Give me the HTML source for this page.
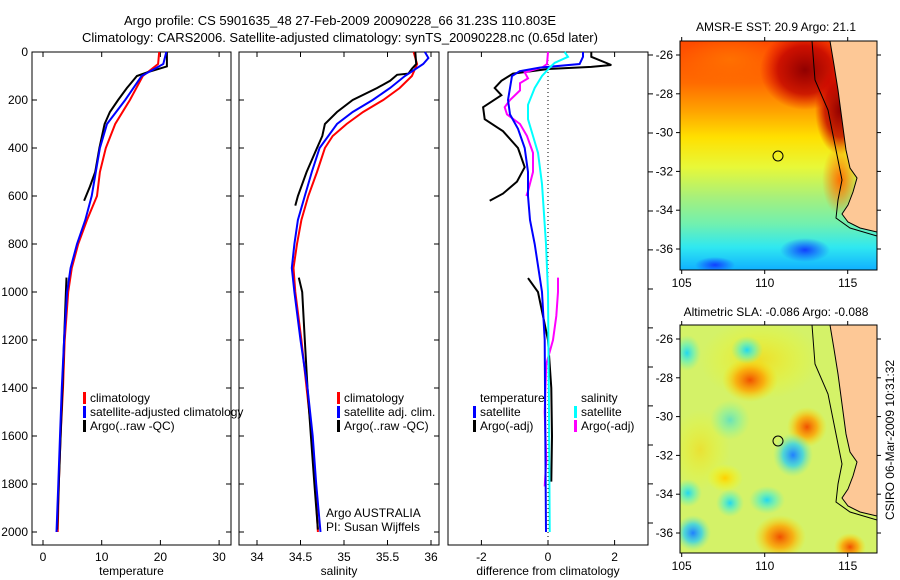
<!DOCTYPE html>
<html><head><meta charset="utf-8">
<style>
body{margin:0;background:#fff;}
svg{display:block;font-family:"Liberation Sans",sans-serif;font-size:12px;}
</style></head>
<body>
<svg id="c" width="900" height="580" viewBox="0 0 900 580">
<defs>
<linearGradient id="sstg" x1="0" y1="0" x2="0" y2="1">
<stop offset="0" stop-color="#ff4a00"/><stop offset="0.18" stop-color="#ff6a00"/>
<stop offset="0.3" stop-color="#ffa000"/><stop offset="0.42" stop-color="#ffe000"/>
<stop offset="0.55" stop-color="#e8f838"/><stop offset="0.68" stop-color="#a8f07a"/>
<stop offset="0.8" stop-color="#70f0b0"/><stop offset="0.9" stop-color="#30e8f0"/>
<stop offset="1" stop-color="#10b0ff"/></linearGradient>
<radialGradient id="dr"><stop offset="0" stop-color="#900000"/><stop offset="0.6" stop-color="#c00000" stop-opacity="0.8"/><stop offset="1" stop-color="#e00000" stop-opacity="0"/></radialGradient>
<radialGradient id="og"><stop offset="0" stop-color="#ff7000"/><stop offset="1" stop-color="#ff7000" stop-opacity="0"/></radialGradient>
<radialGradient id="bl"><stop offset="0" stop-color="#1040ff"/><stop offset="1" stop-color="#1040ff" stop-opacity="0"/></radialGradient>
<radialGradient id="rb"><stop offset="0" stop-color="#f05000"/><stop offset="0.5" stop-color="#ffa000" stop-opacity="0.8"/><stop offset="1" stop-color="#ffe000" stop-opacity="0"/></radialGradient>
<radialGradient id="cb"><stop offset="0" stop-color="#20d8f0"/><stop offset="0.5" stop-color="#60f0c0" stop-opacity="0.7"/><stop offset="1" stop-color="#80f0a0" stop-opacity="0"/></radialGradient>
<radialGradient id="bb"><stop offset="0" stop-color="#2080ff"/><stop offset="0.5" stop-color="#30d0f0" stop-opacity="0.8"/><stop offset="1" stop-color="#80f0a0" stop-opacity="0"/></radialGradient>
<radialGradient id="yb"><stop offset="0" stop-color="#ffd000"/><stop offset="1" stop-color="#ffff00" stop-opacity="0"/></radialGradient>
<clipPath id="m1c"><rect x="680" y="41" width="197" height="229"/></clipPath>
<clipPath id="m2c"><rect x="680" y="325" width="197" height="228"/></clipPath>
</defs>
<text x="340" y="25" text-anchor="middle" font-size="13">Argo profile: CS 5901635_48 27-Feb-2009 20090228_66 31.23S 110.803E</text>
<text x="340" y="42" text-anchor="middle" font-size="13">Climatology: CARS2006. Satellite-adjusted climatology: synTS_20090228.nc (0.65d later)</text>
<g id="plots"></g>

<!-- SST map -->
<g clip-path="url(#m1c)">
<rect x="680" y="41" width="197" height="229" fill="url(#sstg)"/>
<ellipse cx="730" cy="60" rx="50" ry="25" fill="url(#og)"/>
<ellipse cx="805" cy="70" rx="45" ry="40" fill="url(#dr)"/>
<ellipse cx="840" cy="110" rx="25" ry="45" fill="url(#dr)"/>
<ellipse cx="840" cy="180" rx="18" ry="35" fill="url(#og)"/>
<ellipse cx="805" cy="250" rx="25" ry="12" fill="url(#bl)"/>
<ellipse cx="715" cy="265" rx="20" ry="8" fill="url(#bl)"/>
<polygon points="830,41 877,41 877,232 860,228 848,222 842,214 848,205 853,192 857,178 850,168 846,150 842,120 838,90 834,65" fill="#fdc896"/>
<polyline points="812,41 815,80 828,110 836,150 842,180 838,200 836,218 850,228 877,236" fill="none" stroke="#000" stroke-width="1"/>
<polyline points="830,41 834,65 838,90 842,120 846,150 850,168 857,178 853,192 848,205 842,214 848,222 860,228 877,232" fill="none" stroke="#000" stroke-width="1"/>
<circle cx="778" cy="156" r="5" fill="none" stroke="#000"/>
</g>
<rect x="680" y="41" width="197" height="229" fill="none" stroke="#000"/>
<text x="776" y="31" text-anchor="middle">AMSR-E SST: 20.9 Argo: 21.1</text>

<!-- SLA map -->
<g clip-path="url(#m2c)">
<rect x="680" y="325" width="197" height="228" fill="#d4f268"/>
<ellipse cx="760" cy="360" rx="60" ry="40" fill="url(#yb)" opacity="0.6"/>
<ellipse cx="700" cy="450" rx="30" ry="40" fill="url(#yb)" opacity="0.5"/>
<ellipse cx="750" cy="380" rx="28" ry="22" fill="url(#rb)"/>
<ellipse cx="807" cy="427" rx="20" ry="20" fill="url(#rb)"/>
<ellipse cx="780" cy="537" rx="26" ry="22" fill="url(#rb)"/>
<ellipse cx="850" cy="547" rx="16" ry="14" fill="url(#rb)"/>
<ellipse cx="725" cy="478" rx="18" ry="14" fill="url(#yb)"/>
<ellipse cx="793" cy="455" rx="20" ry="22" fill="url(#bb)"/>
<ellipse cx="693" cy="533" rx="18" ry="18" fill="url(#bb)"/>
<ellipse cx="767" cy="500" rx="18" ry="14" fill="url(#cb)"/>
<ellipse cx="730" cy="503" rx="14" ry="14" fill="url(#cb)"/>
<ellipse cx="688" cy="493" rx="14" ry="14" fill="url(#cb)"/>
<ellipse cx="747" cy="350" rx="16" ry="14" fill="url(#cb)"/>
<ellipse cx="687" cy="353" rx="14" ry="18" fill="url(#cb)"/>
<ellipse cx="730" cy="420" rx="20" ry="20" fill="url(#cb)" opacity="0.6"/>
<polygon points="830,325 877,325 877,516 860,512 848,506 842,498 848,489 853,476 857,462 850,452 846,434 842,404 838,374 834,349" fill="#fdc896"/>
<polyline points="812,325 815,364 828,394 836,434 842,464 838,484 836,502 850,512 877,520" fill="none" stroke="#000" stroke-width="1"/>
<polyline points="830,325 834,349 838,374 842,404 846,434 850,452 857,462 853,476 848,489 842,498 848,506 860,512 877,516" fill="none" stroke="#000" stroke-width="1"/>
<circle cx="778" cy="441" r="5" fill="none" stroke="#000"/>
</g>
<rect x="680" y="325" width="197" height="228" fill="none" stroke="#000"/>
<text x="776" y="316" text-anchor="middle">Altimetric SLA: -0.086 Argo: -0.088</text>
<text transform="translate(894,440) rotate(-90)" text-anchor="middle">CSIRO 06-Mar-2009 10:31:32</text>
<g id="mapaxes"></g>
</svg>
<script>
// ---- data (depth in dbar, values) ----
const tClimDepth=[0,50,100,200,300,400,500,600,700,800,900,1000,1200,1400,1600,1800,2000];
const tClimVal=[19.8,19.6,17.0,14.8,12.3,10.7,9.7,9.2,7.5,6.0,4.9,4.3,3.7,3.4,3.0,2.7,2.5];
const tSatDepth=[0,50,100,200,300,400,500,600,700,800,900,1000,1200,1400,1600,1800,2000];
const tSatVal=[21.0,20.5,16.8,14.0,10.9,9.7,9.0,8.3,7.2,5.8,4.7,4.1,3.6,3.2,2.9,2.6,2.3];
const tArgoDepth1=[0,60,85,100,150,200,250,300,400,500,560,620];
const tArgoVal1=[21.1,21.1,17.7,16.0,14.3,12.8,11.4,10.5,9.6,8.9,8.0,7.0];
const tArgoDepth2=[940,1000,1200,1400,1600,1800,1990];
const tArgoVal2=[4.0,3.9,3.6,3.3,3.0,2.7,2.4];
const sClimDepth=[0,50,100,150,200,250,300,350,400,500,600,700,800,900,1000,1200,1400,1600,1800,2000];
const sClimVal=[35.80,35.84,35.78,35.64,35.45,35.22,35.03,34.87,34.78,34.69,34.59,34.51,34.46,34.42,34.44,34.51,34.57,34.63,34.67,34.70];
const sSatDepth=[0,25,50,100,150,200,250,300,400,500,600,700,800,900,1000,1200,1400,1600,1800,2000];
const sSatVal=[35.93,35.97,35.91,35.70,35.53,35.33,35.10,34.92,34.72,34.63,34.55,34.47,34.43,34.40,34.43,34.50,34.58,34.64,34.68,34.73];
const sArgoDepth1=[0,50,70,90,95,120,150,200,250,300,350,400,500,600,640];
const sArgoVal1=[35.82,35.83,35.78,35.74,35.61,35.53,35.38,35.10,34.92,34.78,34.75,34.69,34.57,34.47,34.44];
const sArgoDepth2=[940,1000,1200,1400,1600,1800,1990];
const sArgoVal2=[34.48,34.52,34.55,34.58,34.62,34.66,34.70];
const dTArgoDepth1=[0,20,54,62,71,90,120,150,180,230,280,330,400,480,540,590,620];
const dTArgoVal1=[1.3,1.3,1.9,1.3,0,-1.05,-1.4,-1.6,-1.4,-1.95,-1.9,-1.35,-0.9,-0.7,-0.93,-1.35,-1.75];
const dTArgoDepth2=[942,1000,1100,1200,1400,1600,1790];
const dTArgoVal2=[-0.6,-0.3,-0.15,0.0,0.1,0.12,0.1];
const dTSatDepth=[0,20,50,65,80,100,200,260,320,400,500,600,700,800,1000,1200,1600,2000];
const dTSatVal=[1.05,1.05,0.95,-0.25,-0.85,-1.08,-1.2,-1.14,-0.9,-0.7,-0.6,-0.6,-0.54,-0.4,-0.18,-0.1,-0.08,-0.06];
const dSSatDepth=[0,20,45,65,100,150,220,280,350,420,550,800,1000,1500,2000];
const dSSatVal=[0.5,0.6,0.2,0.05,-0.18,-0.4,-0.6,-0.6,-0.45,-0.3,-0.18,-0.06,0,0.03,0.05];
const dSArgoDepth1=[0,50,62,70,85,110,130,160,200,230,260,300,350,420,500,580,600];
const dSArgoVal1=[0,-0.03,-0.15,-0.33,-0.7,-0.6,-0.84,-0.84,-1.14,-1.3,-1.23,-0.84,-0.63,-0.45,-0.45,-0.6,-0.65];
const dSArgoDepth2=[940,1000,1100,1200,1300,1500,1700,1810];
const dSArgoVal2=[0.3,0.3,0.25,0.15,-0.05,-0.1,-0.05,-0.1];
const depthTicks=[0,200,400,600,800,1000,1200,1400,1600,1800,2000];
const tempTicks=[0,10,20,30];
const salTicks=[34,34.5,35,35.5,36];
const salTickLabels=["34","34.5","35","35.5","36"];
const diffTicks=[-2,0,2];
const latTicks=[-26,-28,-30,-32,-34,-36];
const lonTicks=[105,110,115];

const NS='http://www.w3.org/2000/svg';
const g=document.getElementById('plots');
function mk(tag,attrs,parent){const e=document.createElementNS(NS,tag);for(const k in attrs)e.setAttribute(k,attrs[k]);(parent||g).appendChild(e);return e;}
const top0=52,bot=545;
const yD=d=>52+d*0.24;
const panels=[
 {name:'temperature-panel',x0:32,x1:231,vx:v=>43+v*5.87,ticks:tempTicks,labels:tempTicks.map(String),xlabel:'temperature'},
 {name:'salinity-panel',x0:239,x1:439,vx:v=>257+(v-34)*87,ticks:salTicks,labels:salTickLabels,xlabel:'salinity'},
 {name:'difference-panel',x0:448,x1:648,vx:v=>548+v*33.3,ticks:diffTicks,labels:['-2','0','2'],xlabel:'difference from climatology'}
];
panels.forEach((p,i)=>{
 const f=mk('rect',{x:p.x0,y:top0,width:p.x1-p.x0,height:bot-top0,fill:'none',stroke:'#000'});
 
 
 p.ticks.forEach((t,j)=>{
  const x=p.vx(t);
  mk('line',{x1:x,x2:x,y1:bot,y2:bot-5,stroke:'#000'});
  mk('line',{x1:x,x2:x,y1:top0,y2:top0+5,stroke:'#000'});
  const tl=mk('text',{x:x,y:bot+16,'text-anchor':'middle'});tl.textContent=p.labels[j];
  
  
 });
 const xl=mk('text',{x:(p.x0+p.x1)/2,y:bot+30,'text-anchor':'middle'});xl.textContent=p.xlabel;
 
 
 if(i<2){depthTicks.forEach(d=>{const y=yD(d);
  mk('line',{x1:p.x0,x2:p.x0+5,y1:y,y2:y,stroke:'#000'});
  mk('line',{x1:p.x1,x2:p.x1-5,y1:y,y2:y,stroke:'#000'});
  if(i==0){const t=mk('text',{x:28,y:y+4,'text-anchor':'end'});t.textContent=d;
   
   }
 });}
});
// panel 3 right ticks
[0,162,325,487,650,812,975,1137,1300,1462,1625,1787,1950].forEach(d=>{const y=yD(d)+3;mk('line',{x1:648,x2:653,y1:y,y2:y,stroke:'#000'});});
mk('line',{x1:548,x2:548,y1:top0,y2:bot,stroke:'#000','stroke-dasharray':'1,3'});
function series(D,V,vx,col,w,name){
 const pts=D.map((d,k)=>vx(V[k]).toFixed(1)+','+yD(d).toFixed(1)).join(' ');
 const l=mk('polyline',{points:pts,fill:'none',stroke:col,'stroke-width':w});
 
 
}
const P=panels;
series(tClimDepth,tClimVal,P[0].vx,'#f00',2,'temp-climatology-line');
series(tArgoDepth1,tArgoVal1,P[0].vx,'#000',2,'temp-argo-line');
series(tArgoDepth2,tArgoVal2,P[0].vx,'#000',2,'temp-argo-deep-line');
series(tSatDepth,tSatVal,P[0].vx,'#00f',2,'temp-satellite-line');
series(sClimDepth,sClimVal,P[1].vx,'#f00',2,'sal-climatology-line');
series(sArgoDepth1,sArgoVal1,P[1].vx,'#000',2,'sal-argo-line');
series(sArgoDepth2,sArgoVal2,P[1].vx,'#000',2,'sal-argo-deep-line');
series(sSatDepth,sSatVal,P[1].vx,'#00f',2,'sal-satellite-line');
series(dTArgoDepth1,dTArgoVal1,P[2].vx,'#000',2,'diff-temp-argo-line');
series(dTArgoDepth2,dTArgoVal2,P[2].vx,'#000',2,'diff-temp-argo-deep-line');
series(dSArgoDepth1,dSArgoVal1,P[2].vx,'#f0f',2,'diff-sal-argo-line');
series(dSArgoDepth2,dSArgoVal2,P[2].vx,'#f0f',2,'diff-sal-argo-deep-line');
series(dTSatDepth,dTSatVal,P[2].vx,'#00f',2,'diff-temp-satellite-line');
series(dSSatDepth,dSSatVal,P[2].vx,'#0ff',2,'diff-sal-satellite-line');
function leg(x,y,col,txt){
 if(col){const b=mk('rect',{x:x,y:y-10,width:3,height:12,fill:col});
  
  }
 const t=mk('text',{x:x+7,y:y});t.textContent=txt;
 
 
}
leg(83,402,'#f00','climatology');leg(83,416,'#00f','satellite-adjusted climatology');leg(83,430,'#000','Argo(..raw -QC)');
leg(337,402,'#f00','climatology');leg(337,416,'#00f','satellite adj. clim.');leg(337,430,'#000','Argo(..raw -QC)');
leg(473,402,null,'temperature');leg(473,416,'#00f','satellite');leg(473,430,'#000','Argo(-adj)');
leg(574,402,null,'salinity');leg(574,416,'#0ff','satellite');leg(574,430,'#f0f','Argo(-adj)');
const a1=mk('text',{x:326,y:517});a1.textContent='Argo AUSTRALIA';


const a2=mk('text',{x:326,y:531});a2.textContent='PI: Susan Wijffels';


// map axes
const ma=document.getElementById('mapaxes');
const lonX=l=>681.7+(l-105)*16.6;
[[41,270,55],[325,553,339]].forEach(([t,b,y26])=>{
 latTicks.forEach(la=>{const y=y26+(-26-la)*19.4;
  mk('line',{x1:680,x2:676,y1:y,y2:y,stroke:'#000'},ma);
  mk('line',{x1:877,x2:881,y1:y,y2:y,stroke:'#000'},ma);
  const tx=mk('text',{x:673,y:y+4,'text-anchor':'end'},ma);tx.textContent=la;
  
  
 });
 lonTicks.forEach(lo=>{const x=lonX(lo);
  mk('line',{x1:x,x2:x,y1:b,y2:b+4,stroke:'#000'},ma);
  mk('line',{x1:x,x2:x,y1:t,y2:t-4,stroke:'#000'},ma);
  const tx=mk('text',{x:x,y:b+17,'text-anchor':'middle'},ma);tx.textContent=lo;
  
  
 });
});
</script>
</body></html>
